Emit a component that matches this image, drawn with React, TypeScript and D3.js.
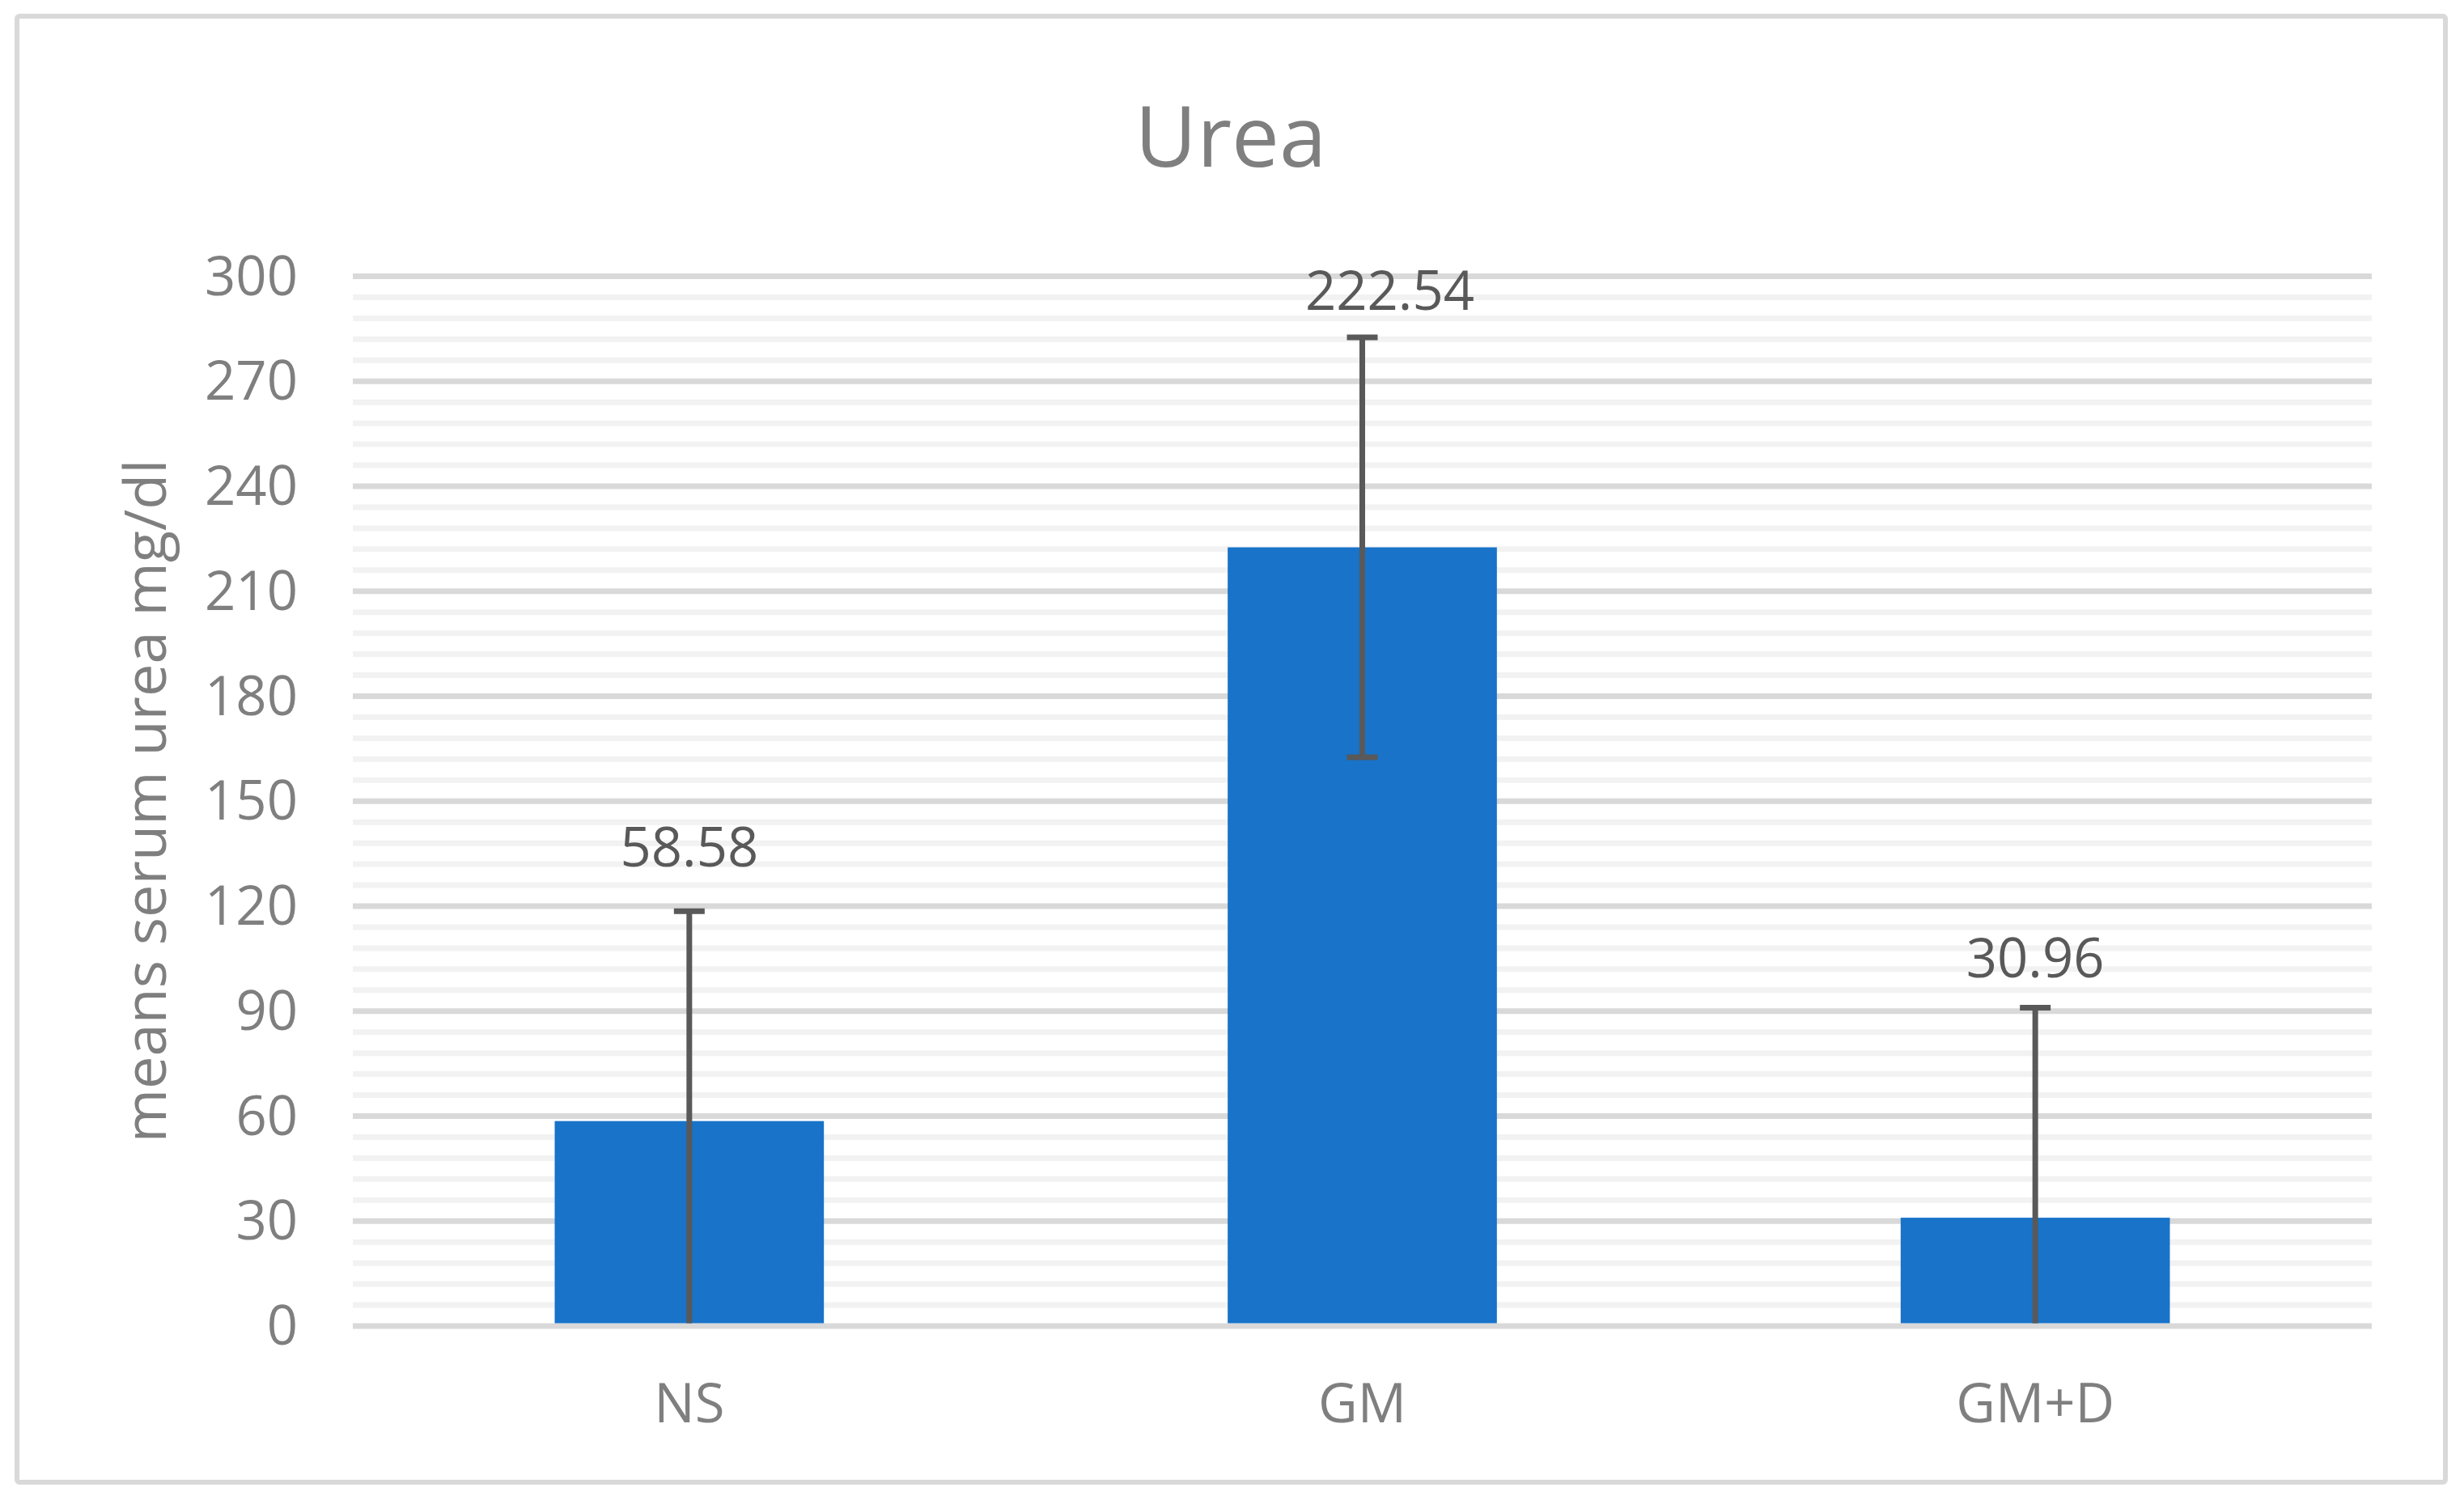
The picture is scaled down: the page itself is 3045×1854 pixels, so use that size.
import React from "react";
import * as d3 from "d3";

const categories = ["NS", "GM", "GM+D"];
const means = [58.58, 222.54, 30.96];
const errors = [60, 60, 60];
const yTicks = [0, 30, 60, 90, 120, 150, 180, 210, 240, 270, 300];
const minorStep = 6;
const title = "Urea";
const yTitle = "means serum urea mg/dl";
// manual data-label nudges (px) relative to the error-bar top
const labelDx = [0, 34, 0];
const labelDy = [-55, -34, -38];

const W = 3045;
const H = 1854;
const FONT = "'Open Sans', 'Noto Sans', sans-serif";

export default function App() {
  const plot = { left: 436, right: 2931, top: 341.5, bottom: 1639 };
  const x = d3
    .scaleBand<string>()
    .domain(categories)
    .range([plot.left, plot.right])
    .paddingInner(0.6)
    .paddingOuter(0.3);
  const y = d3.scaleLinear().domain([0, 300]).range([plot.bottom, plot.top]);
  const minorTicks = d3.range(0, 300 + 0.001, minorStep).filter((v) => v % 30 !== 0);
  const capW = 38;

  return (
    <svg
      width={W}
      height={H}
      style={{ position: "absolute", left: 0, top: 0, background: "#fff" }}
    >
      <rect x={0} y={0} width={W} height={H} fill="#fff" />
      <rect
        x={21}
        y={20}
        width={3001}
        height={1812}
        rx={3}
        fill="#fff"
        stroke="#d9d9d9"
        strokeWidth={6}
      />
      <text
        x={1521}
        y={206}
        textAnchor="middle"
        fontFamily={FONT}
        fontSize={105}
        fill="#7f7f7f"
      >
        {title}
      </text>
      {/* minor gridlines */}
      {minorTicks.map((t) => (
        <line
          key={"m" + t}
          x1={plot.left}
          x2={plot.right}
          y1={y(t)}
          y2={y(t)}
          stroke="#f2f2f2"
          strokeWidth={7}
        />
      ))}
      {/* major gridlines */}
      {yTicks.map((t) => (
        <line
          key={"g" + t}
          x1={plot.left}
          x2={plot.right}
          y1={y(t)}
          y2={y(t)}
          stroke="#d9d9d9"
          strokeWidth={7}
        />
      ))}
      {/* y tick labels */}
      {yTicks.map((t) => (
        <text
          key={"t" + t}
          x={368}
          y={y(t) + 23}
          textAnchor="end"
          fontFamily={FONT}
          fontSize={67}
          fill="#7f7f7f"
        >
          {t}
        </text>
      ))}
      {/* y title */}
      <text
        transform={`translate(205, 990) rotate(-90)`}
        textAnchor="middle"
        fontFamily={FONT}
        fontSize={72}
        fill="#7f7f7f"
      >
        {yTitle}
      </text>
      {/* bars */}
      {categories.map((c, i) => (
        <rect
          key={"b" + c}
          x={x(c)!}
          y={y(means[i])}
          width={x.bandwidth()}
          height={y(0) - y(means[i]) - 3.5}
          fill="#1873c9"
        />
      ))}
      {/* error bars */}
      {categories.map((c, i) => {
        const cx = x(c)! + x.bandwidth() / 2;
        const hi = means[i] + errors[i];
        const loRaw = means[i] - errors[i];
        const lo = Math.max(0, loRaw);
        return (
          <g key={"e" + c} stroke="#595959" strokeWidth={7}>
            <line x1={cx} x2={cx} y1={y(hi)} y2={lo === 0 ? y(0) - 3.5 : y(lo)} />
            <line x1={cx - capW / 2} x2={cx + capW / 2} y1={y(hi)} y2={y(hi)} />
            {loRaw >= 0 && (
              <line x1={cx - capW / 2} x2={cx + capW / 2} y1={y(lo)} y2={y(lo)} />
            )}
          </g>
        );
      })}
      {/* data labels */}
      {categories.map((c, i) => (
        <text
          key={"l" + c}
          x={x(c)! + x.bandwidth() / 2 + labelDx[i]}
          y={y(means[i] + errors[i]) + labelDy[i]}
          textAnchor="middle"
          fontFamily={FONT}
          fontSize={67}
          fill="#595959"
        >
          {means[i].toFixed(2)}
        </text>
      ))}
      {/* x labels */}
      {categories.map((c) => (
        <text
          key={"x" + c}
          x={x(c)! + x.bandwidth() / 2}
          y={1758}
          textAnchor="middle"
          fontFamily={FONT}
          fontSize={67}
          fill="#7f7f7f"
        >
          {c}
        </text>
      ))}
    </svg>
  );
}
